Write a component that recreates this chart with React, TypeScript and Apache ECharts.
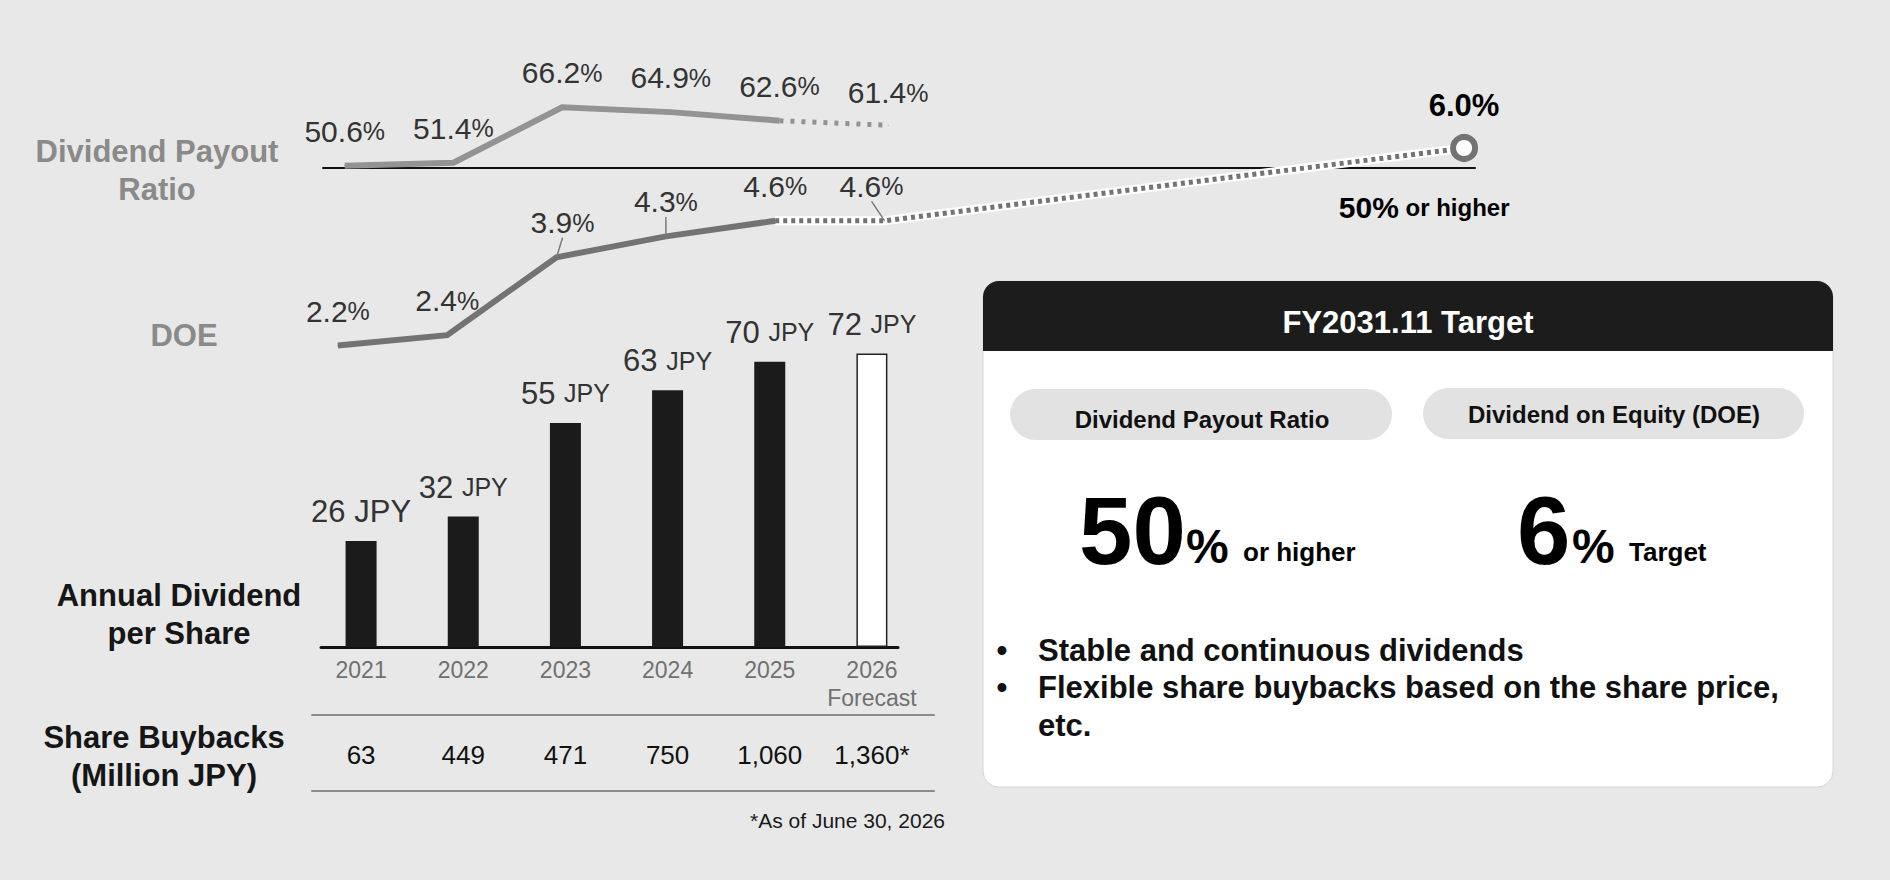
import React, { useEffect, useRef } from 'react';
import * as echarts from 'echarts';

const FONT = '"Liberation Sans", Arial, Helvetica, sans-serif';

// ---------------- data ----------------
const years = ['2021', '2022', '2023', '2024', '2025', '2026'];
const yearValues = [2021, 2022, 2023, 2024, 2025, 2026];
const forecastNotes = ['', '', '', '', '', 'Forecast'];
const payoutRatio = [50.6, 51.4, 66.2, 64.9, 62.6, 61.4];
const doeValues = [2.2, 2.4, 3.9, 4.3, 4.6, 4.6];
const dividendPerShare = [26, 32, 55, 63, 70, 72];
const buybacks = ['63', '449', '471', '750', '1,060', '1,360*'];
const targetYear = 2031.3;
const doeTarget = 6.0;
const payoutTarget = 50;
const actualCount = 5; // 2021-2025 actual, 2026 forecast

// ---------------- styles ----------------
const BG = '#e8e8e8';
const GREY_PAYOUT = '#939393';
const GREY_DOE = '#737373';
const TEXT = '#333333';
const LABEL_GREY = '#8a8a8a';

const pctRich = {
  v: { fontSize: 30, color: TEXT, fontFamily: FONT },
  p: { fontSize: 25, color: TEXT, fontFamily: FONT },
};
const pct = (v: number) => `{v|${v.toFixed(1)}}{p|%}`;

const leaderLine = { show: true, lineStyle: { color: '#7a7a7a', width: 1.5 } };

function buildOption(): any {
  const payoutSolid = yearValues.slice(0, actualCount).map((y, i) => [y, payoutRatio[i]]);
  const payoutDotted = [
    { value: [yearValues[actualCount - 1], payoutRatio[actualCount - 1]], label: { show: false } },
    { value: [yearValues[actualCount], payoutRatio[actualCount]] },
  ];

  const doeLeaderDx: Record<number, number> = { 2: 6, 3: 0 };
  const doeSolid = yearValues.slice(0, actualCount).map((y, i) => {
    const item: any = { value: [y, doeValues[i]] };
    if (doeLeaderDx[i] !== undefined) item.labelLine = leaderLine;
    if (i === actualCount - 1) item.label = { offset: [-13, 0] };
    return item;
  });

  const doeForecastLine = [
    [yearValues[actualCount - 1], doeValues[actualCount - 1]],
    [yearValues[actualCount], doeValues[actualCount]],
    [targetYear, doeTarget],
  ];
  const doeForecastItems = [
    { value: doeForecastLine[0], label: { show: false } },
    { value: doeForecastLine[1], labelLine: leaderLine },
    {
      value: doeForecastLine[2],
      symbol: 'circle',
      symbolSize: 22,
      itemStyle: { color: '#ffffff', borderColor: GREY_DOE, borderWidth: 6 },
      label: {
        distance: 13,
        formatter: (p: any) => `{t|${p.value[1].toFixed(1)}%}`,
        rich: { t: { fontSize: 31, fontWeight: 'bold', color: '#000', fontFamily: FONT } },
      },
    },
  ];

  const labelLayoutShift = (shifts: Record<number, number>) => (p: any) => {
    const dx = shifts[p.dataIndex];
    if (dx === undefined) return {};
    return {
      x: p.labelRect.x + p.labelRect.width / 2 + dx,
      y: p.labelRect.y + p.labelRect.height / 2,
      align: 'center',
      verticalAlign: 'middle',
    };
  };

  const barData = dividendPerShare.map((v, i) =>
    i < actualCount
      ? { value: v, itemStyle: { color: '#1b1b1b' } }
      : { value: v, itemStyle: { color: '#ffffff', borderColor: '#222', borderWidth: 1.5 } }
  );

  const hiddenValueAxis = (gridIndex: number, min: number, max: number) => ({
    type: 'value', gridIndex, min, max, show: false,
  });
  const ruleAxis = (gridIndex: number, color: string, width: number, position = 'bottom') => ({
    type: 'value', gridIndex, min: 0, max: 1, position,
    axisLine: { show: true, onZero: false, lineStyle: { color, width } },
    axisTick: { show: false }, axisLabel: { show: false }, splitLine: { show: false },
  });

  const txt = (x: number, y: number, text: string, size: number, color: string, opts: any = {}) => ({
    type: 'text', x, y, silent: true,
    style: {
      text, fill: color, fontFamily: FONT, fontSize: size,
      fontWeight: opts.weight ?? 'bold',
      align: opts.align ?? 'center', verticalAlign: 'middle',
      lineHeight: opts.lineHeight,
    },
  });

  const graphic: any[] = [
    // left row titles
    txt(157, 170, 'Dividend Payout\nRatio', 31, LABEL_GREY, { lineHeight: 38 }),
    txt(184, 335, 'DOE', 31, LABEL_GREY),
    txt(179, 614, 'Annual Dividend\nper Share', 31, '#161616', { lineHeight: 38 }),
    txt(164, 756, 'Share Buybacks\n(Million JPY)', 31, '#161616', { lineHeight: 38 }),
    txt(945, 820, '*As of June 30, 2026', 21, '#1a1a1a', { weight: 'normal', align: 'right' }),
    // target card
    { type: 'rect', silent: true, shape: { x: 983, y: 281, width: 850, height: 506, r: 16 },
      style: { fill: '#ffffff', stroke: '#d6d6d6', lineWidth: 1 } },
    { type: 'rect', silent: true, shape: { x: 983, y: 281, width: 850, height: 70, r: [16, 16, 0, 0] },
      style: { fill: '#1c1c1c' } },
    txt(1408, 322, 'FY2031.11 Target', 31, '#ffffff'),
    { type: 'rect', silent: true, shape: { x: 1010, y: 389, width: 382, height: 51, r: 25.5 },
      style: { fill: '#e2e2e2' } },
    { type: 'rect', silent: true, shape: { x: 1423, y: 388, width: 381, height: 51, r: 25.5 },
      style: { fill: '#e2e2e2' } },
    txt(1202, 419, 'Dividend Payout Ratio', 24, '#111'),
    txt(1614, 414, 'Dividend on Equity (DOE)', 24, '#111'),
    txt(1079, 530, '50', 96, '#000', { align: 'left' }),
    txt(1186, 546, '%', 48, '#000', { align: 'left' }),
    txt(1243, 552, 'or higher', 26, '#000', { align: 'left' }),
    txt(1517, 530, '6', 96, '#000', { align: 'left' }),
    txt(1572, 546, '%', 48, '#000', { align: 'left' }),
    txt(1629, 552, 'Target', 26, '#000', { align: 'left' }),
    txt(1002, 650, '•', 31, '#111'),
    txt(1038, 650, 'Stable and continuous dividends', 31, '#111', { align: 'left' }),
    txt(1002, 687, '•', 31, '#111'),
    txt(1038, 687, 'Flexible share buybacks based on the share price,', 31, '#111', { align: 'left' }),
    txt(1038, 725, 'etc.', 31, '#111', { align: 'left' }),
  ];

  return {
    animation: false,
    backgroundColor: BG,
    textStyle: { fontFamily: FONT },
    grid: [
      { left: 323, right: 415, top: 93, bottom: 712 },   // payout ratio
      { left: 316, right: 415, top: 122, bottom: 524 },  // DOE
      { left: 310, right: 967, top: 321, bottom: 233 },  // bars
      { left: 321, right: 992, top: 321, bottom: 233 },  // bar baseline rule
      { left: 312, right: 956, top: 715, bottom: 89 },   // buyback table rules
    ],
    xAxis: [
      {
        type: 'value', gridIndex: 0, min: 2020.8, max: 2031.4,
        axisLine: { show: true, onZero: false, lineStyle: { color: '#111', width: 2 } },
        axisTick: { show: false }, axisLabel: { show: false }, splitLine: { show: false },
      },
      { type: 'value', gridIndex: 1, min: 2020.8, max: 2031.4, show: false },
      {
        type: 'category', gridIndex: 2, data: years,
        axisLine: { show: false }, axisTick: { show: false },
        axisLabel: {
          margin: 9,
          interval: 0,
          formatter: (val: string, idx: number) =>
            `{y|${val}}\n{f|${forecastNotes[idx] || ' '}}\n{b|${buybacks[idx]}}`,
          rich: {
            y: { fontSize: 23, color: '#707070', lineHeight: 28, fontFamily: FONT },
            f: { fontSize: 23, color: '#707070', lineHeight: 28, fontFamily: FONT },
            b: { fontSize: 26, color: '#111', lineHeight: 86, fontFamily: FONT },
          },
        },
      },
      ruleAxis(3, '#111', 3),
      ruleAxis(4, '#8c8c8c', 2, 'bottom'),
      ruleAxis(4, '#8c8c8c', 2, 'top'),
    ],
    yAxis: [
      hiddenValueAxis(0, 50, 70),
      hiddenValueAxis(1, 2, 6.5),
      hiddenValueAxis(2, 0, 80),
      hiddenValueAxis(3, 0, 1),
      hiddenValueAxis(4, 0, 1),
    ],
    series: [
      {
        name: 'Dividend Payout Ratio', type: 'line', xAxisIndex: 0, yAxisIndex: 0,
        data: payoutSolid, clip: false, z: 3,
        symbol: 'circle', symbolSize: 1, itemStyle: { color: GREY_PAYOUT },
        lineStyle: { color: GREY_PAYOUT, width: 6, join: 'miter' },
        label: { show: true, position: 'top', distance: 19, formatter: (p: any) => pct(p.value[1]), rich: pctRich },
      },
      {
        name: 'Dividend Payout Ratio (forecast)', type: 'line', xAxisIndex: 0, yAxisIndex: 0,
        data: payoutDotted, clip: false, z: 3,
        symbol: 'circle', symbolSize: 1, itemStyle: { color: GREY_PAYOUT },
        lineStyle: { color: GREY_PAYOUT, width: 5, type: [4, 7], cap: 'butt' },
        label: { show: true, position: 'top', distance: 17, formatter: (p: any) => pct(p.value[1]), rich: pctRich },
      },
      {
        name: 'Payout target', type: 'scatter', xAxisIndex: 0, yAxisIndex: 0,
        data: [[targetYear, payoutTarget]], clip: false,
        symbolSize: 1, itemStyle: { color: '#000', opacity: 0 },
        label: {
          show: true, position: 'bottom', distance: 24, offset: [-40, 0],
          color: '#000', opacity: 1,
          formatter: (p: any) => `{a|${p.value[1]}%}{b| or higher}`,
          rich: {
            a: { fontSize: 30, fontWeight: 'bold', color: '#000', fontFamily: FONT },
            b: { fontSize: 24, fontWeight: 'bold', color: '#000', fontFamily: FONT },
          },
        },
      },
      {
        name: 'DOE', type: 'line', xAxisIndex: 1, yAxisIndex: 1,
        data: doeSolid, clip: false, z: 3,
        symbol: 'circle', symbolSize: 1, itemStyle: { color: GREY_DOE },
        lineStyle: { color: GREY_DOE, width: 6, join: 'miter' },
        label: { show: true, position: 'top', distance: 19, formatter: (p: any) => pct(p.value[1]), rich: pctRich },
        labelLine: { show: false },
        labelLayout: labelLayoutShift(doeLeaderDx),
      },
      {
        name: 'DOE forecast base', type: 'line', xAxisIndex: 1, yAxisIndex: 1,
        data: doeForecastLine, clip: false, z: 2, symbol: 'none',
        lineStyle: { color: '#ffffff', width: 9 },
        silent: true,
      },
      {
        name: 'DOE (forecast)', type: 'line', xAxisIndex: 1, yAxisIndex: 1,
        data: doeForecastItems, clip: false, z: 4,
        symbol: 'circle', symbolSize: 1, itemStyle: { color: GREY_DOE },
        lineStyle: { color: GREY_DOE, width: 5, type: [4, 4], cap: 'butt' },
        label: { show: true, position: 'top', distance: 19, formatter: (p: any) => pct(p.value[1]), rich: pctRich },
        labelLine: { show: false },
        labelLayout: labelLayoutShift({ 1: -13 }),
      },
      {
        name: 'Annual Dividend per Share', type: 'bar', xAxisIndex: 2, yAxisIndex: 2,
        data: barData, barWidth: 31,
        label: {
          show: true, position: 'top', distance: 14,
          formatter: (p: any) => (p.dataIndex === 0 ? `{n|${p.value} JPY}` : `{n|${p.value} }{u|JPY}`),
          rich: {
            n: { fontSize: 31, color: TEXT, fontFamily: FONT },
            u: { fontSize: 25, color: TEXT, fontFamily: FONT },
          },
        },
      },
    ],
    graphic,
  };
}

export default function App() {
  const ref = useRef<HTMLDivElement>(null);
  useEffect(() => {
    if (!ref.current) return;
    const chart = echarts.init(ref.current, undefined, { renderer: 'svg' });
    chart.setOption(buildOption());
    return () => chart.dispose();
  }, []);
  return (
    <div
      ref={ref}
      style={{ position: 'absolute', left: 0, top: 0, width: 1890, height: 880 }}
    />
  );
}
